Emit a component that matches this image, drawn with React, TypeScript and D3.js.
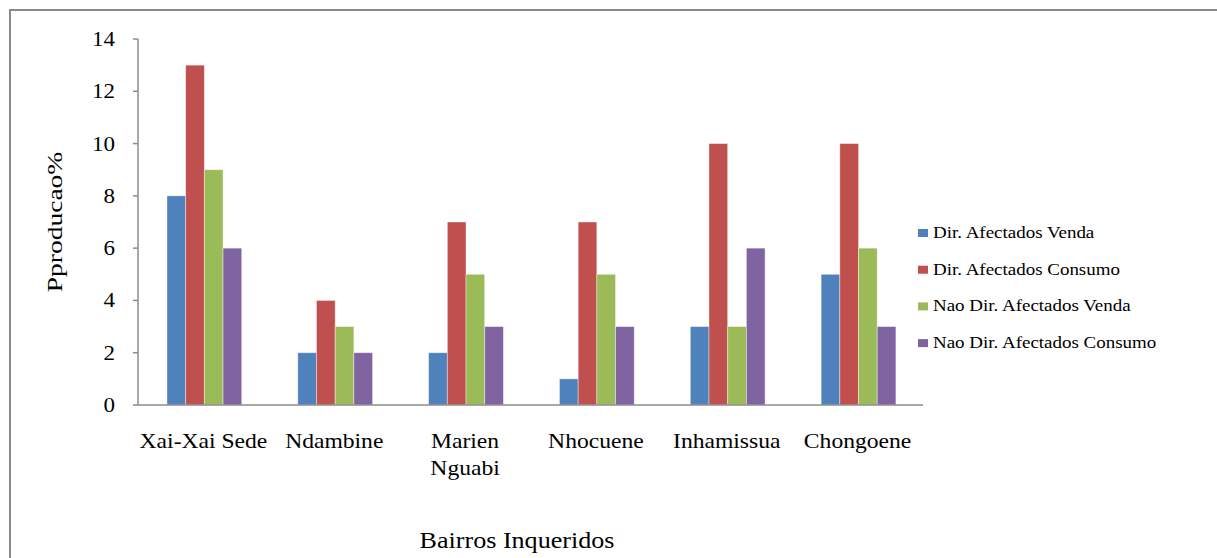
import React from "react";
import * as d3 from "d3";

const categories = ["Xai-Xai Sede", "Ndambine", "Marien\nNguabi", "Nhocuene", "Inhamissua", "Chongoene"];
const seriesNames = [
  "Dir. Afectados Venda",
  "Dir. Afectados Consumo",
  "Nao Dir. Afectados Venda",
  "Nao Dir. Afectados Consumo",
];
const dirVenda = [8, 2, 2, 1, 3, 5];
const dirConsumo = [13, 4, 7, 7, 10, 10];
const naoVenda = [9, 3, 5, 5, 3, 6];
const naoConsumo = [6, 2, 3, 3, 6, 3];
const seriesValues = [dirVenda, dirConsumo, naoVenda, naoConsumo];
const colors = ["#4F81BD", "#C0504D", "#9BBB59", "#8064A2"];
const yTicks = [0, 2, 4, 6, 8, 10, 12, 14];
const yTitle = "Pproducao%";
const xTitle = "Bairros Inqueridos";

const FONT = "Times New Roman, Liberation Serif, Tinos, DejaVu Serif, serif";

function SText(props: {
  x: number;
  y: number;
  sx: number;
  size: number;
  anchor?: string;
  rotate?: number;
  children: React.ReactNode;
}) {
  const { x, y, sx, size, anchor, rotate, children } = props;
  return (
    <g transform={`translate(${x},${y}) rotate(${rotate || 0}) scale(${sx},1)`}>
      <text
        x={0}
        y={0}
        style={{ fontFamily: FONT, fontSize: size }}
        textAnchor={anchor || "start"}
        fill="#000"
      >
        {children}
      </text>
    </g>
  );
}

export default function App() {
  const W = 1217;
  const H = 558;
  const left = 138;
  const right = 923;
  const top = 39;
  const bottom = 405;

  const x0 = d3.scaleBand<number>().domain(d3.range(categories.length)).range([left, right]).padding(0);
  const bw = x0.bandwidth();
  const unit = bw / 7;
  const x1 = d3
    .scaleBand<number>()
    .domain(d3.range(seriesNames.length))
    .range([1.55 * unit, 5.55 * unit])
    .padding(0);
  const y = d3.scaleLinear().domain([0, 14]).range([bottom, top]);

  return (
    <svg width={W} height={H} style={{ position: "absolute", left: 0, top: 0 }}>
      <rect x={0} y={0} width={W} height={H} fill="#fff" />
      <rect x={10} y={10} width={1240} height={600} fill="none" stroke="#8a8a8a" strokeWidth={2} />

      {/* bars */}
      {seriesValues.map((vals, s) =>
        vals.map((v, i) => (
          <rect
            key={`${s}-${i}`}
            x={(x0(i) as number) + (x1(s) as number)}
            y={y(v)}
            width={x1.bandwidth()}
            height={y(0) - y(v)}
            fill={colors[s]}
            stroke="#ffffff"
            strokeOpacity={0.5}
            strokeWidth={0.8}
          />
        ))
      )}

      {/* y axis */}
      <line x1={left} x2={left} y1={top} y2={bottom} stroke="#8c8c8c" strokeWidth={1.5} />
      {yTicks.map((t) => (
        <g key={t}>
          <line x1={left - 5} x2={left} y1={y(t)} y2={y(t)} stroke="#8c8c8c" strokeWidth={1.5} />
          <SText x={115} y={y(t) + 7} sx={1.15} size={20} anchor="end">
            {t}
          </SText>
        </g>
      ))}

      {/* x axis */}
      <line x1={left} x2={right} y1={bottom} y2={bottom} stroke="#8c8c8c" strokeWidth={1.5} />
      {categories.map((c, i) =>
        c.split("\n").map((line, j) => (
          <SText
            key={`${i}-${j}`}
            x={(x0(i) as number) + bw / 2}
            y={bottom + 43 + j * 27}
            sx={1.18}
            size={20}
            anchor="middle"
          >
            {line}
          </SText>
        ))
      )}

      {/* titles */}
      <SText x={517} y={548} sx={1.16} size={22.5} anchor="middle">
        {xTitle}
      </SText>
      <SText x={62} y={222} sx={1.25} size={22} anchor="middle" rotate={-90}>
        {yTitle}
      </SText>

      {/* legend */}
      {seriesNames.map((n, s) => (
        <g key={n}>
          <rect x={918} y={229 + s * 36.7} width={10} height={8} fill={colors[s]} />
          <SText x={933} y={238 + s * 36.7} sx={1.15} size={16.5}>
            {n}
          </SText>
        </g>
      ))}
    </svg>
  );
}
